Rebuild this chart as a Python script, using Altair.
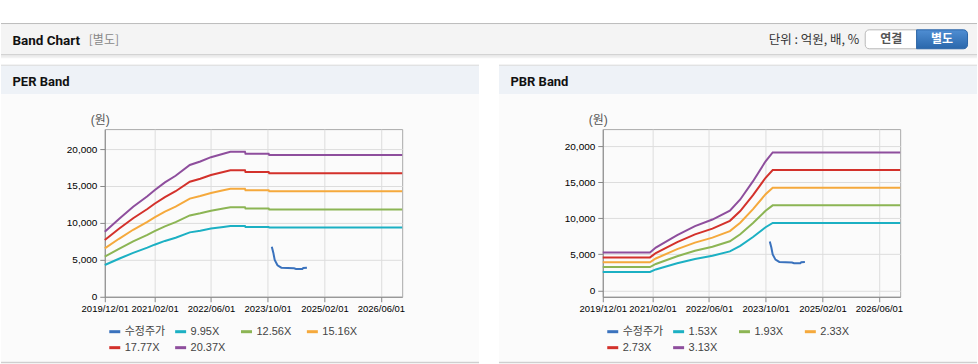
import altair as alt
import pandas as pd

# ---------------- data ----------------
per_labels = ["수정주가", "9.95X", "12.56X", "15.16X", "17.77X", "20.37X"]
pbr_labels = ["수정주가", "1.53X", "1.93X", "2.33X", "2.73X", "3.13X"]
line_colors = ["#3a72bd", "#1cb0c3", "#8cb554", "#f5a93c", "#d3312b", "#8e4e9d"]

per_dates = ["2019-12-01", "2020-04-01", "2020-08-01", "2020-12-01", "2021-02-01",
             "2021-05-01", "2021-08-01", "2021-12-01", "2022-03-01", "2022-06-01",
             "2022-09-15", "2022-11-15", "2023-03-20", "2023-03-25", "2023-10-10",
             "2023-10-15", "2026-12-01"]
per_995 = [4300, 5150, 5950, 6650, 7050, 7560, 8000, 8720, 8950, 9230, 9460, 9590, 9590, 9460, 9460, 9370, 9370]
per_1256 = [5430, 6500, 7510, 8390, 8900, 9540, 10100, 11010, 11300, 11650, 11940, 12110, 12110, 11940, 11940, 11830, 11830]
per_1516 = [6550, 7850, 9070, 10130, 10740, 11520, 12190, 13290, 13640, 14060, 14410, 14610, 14610, 14410, 14410, 14280, 14280]
per_1777 = [7680, 9200, 10630, 11880, 12590, 13500, 14290, 15570, 15980, 16480, 16890, 17130, 17130, 16890, 16890, 16730, 16730]
per_2037 = [8800, 10540, 12180, 13610, 14430, 15480, 16380, 17850, 18320, 18900, 19370, 19630, 19630, 19370, 19370, 19180, 19180]

pbr_dates = ["2019-12-01", "2021-01-10", "2021-03-01", "2021-09-01", "2022-02-01",
             "2022-07-01", "2022-11-28", "2023-02-25", "2023-06-15", "2023-10-01",
             "2023-12-01", "2026-12-01"]
pbr_153 = [2560, 2560, 2900, 3750, 4350, 4800, 5400, 6160, 7400, 8750, 9350, 9350]
pbr_193 = [3230, 3230, 3660, 4730, 5490, 6050, 6810, 7770, 9330, 11040, 11790, 11790]
pbr_233 = [3900, 3900, 4420, 5710, 6620, 7310, 8220, 9380, 11270, 13330, 14240, 14240]
pbr_273 = [4570, 4570, 5170, 6690, 7760, 8560, 9640, 10990, 13200, 15610, 16680, 16680]
pbr_313 = [5240, 5240, 5930, 7670, 8900, 9820, 11050, 12600, 15140, 17900, 19130, 19130]

price_dates = ["2023-11-06", "2023-11-19", "2023-12-01", "2023-12-25", "2024-01-27",
               "2024-05-15", "2024-06-01", "2024-07-25", "2024-08-03", "2024-09-03"]
price_values = [6780, 5970, 4980, 4260, 3940, 3850, 3760, 3760, 3900, 3940]

x_ticks = [(2019, 12), (2021, 2), (2022, 6), (2023, 10), (2025, 2), (2026, 6)]
y_ticks = [0, 5000, 10000, 15000, 20000]
per_ydomain = [0, 22700]
pbr_ydomain = [-890, 22360]


def frame(dates, bands, labels):
    rows = []
    for d, v in zip(price_dates, price_values):
        rows.append({"date": d, "value": v, "series": labels[0]})
    for lab, vals in zip(labels[1:], bands):
        for d, v in zip(dates, vals):
            rows.append({"date": d, "value": v, "series": lab})
    return pd.DataFrame(rows)


per_df = frame(per_dates, [per_995, per_1256, per_1516, per_1777, per_2037], per_labels)
pbr_df = frame(pbr_dates, [pbr_153, pbr_193, pbr_233, pbr_273, pbr_313], pbr_labels)

LATIN = "Liberation Sans, Noto Sans CJK KR"
KR = "Noto Sans CJK KR"
PW, PH = 298, 168


def dt(y, m, d=1):
    return alt.DateTime(year=y, month=m, date=d, utc=True)


def panel(df, labels, ydomain):
    x = alt.X("date:T",
              scale=alt.Scale(type="utc", domain=[dt(2019, 12), dt(2026, 12)]),
              axis=alt.Axis(values=[dt(y, m) for y, m in x_ticks], format="%Y/%m/%d",
                            title=None, labelOverlap=False, labelFlush=False,
                            labelPadding=2, labelFontSize=9.5))
    y = alt.Y("value:Q",
              scale=alt.Scale(domain=ydomain, nice=False, zero=False),
              axis=alt.Axis(values=y_ticks, format=",.0f", title="(원)", titleAngle=0,
                            titleX=-5, titleY=-10, titleAlign="center",
                            titleBaseline="middle", titleFontWeight="normal",
                            titleFontSize=12, titleColor="#555", titleFont=LATIN,
                            labelPadding=3))
    color = alt.Color("series:N",
                      scale=alt.Scale(domain=labels, range=line_colors),
                      legend=alt.Legend(orient="none", legendX=3, legendY=196,
                                        direction="horizontal", columns=4,
                                        gridAlign="all", columnPadding=3, rowPadding=3,
                                        symbolType="stroke", symbolStrokeWidth=3,
                                        symbolSize=121, labelFontSize=11,
                                        labelFont=LATIN, labelColor="#444",
                                        labelOffset=3, padding=0, title=None))
    return (alt.Chart(df).mark_line(strokeWidth=2)
            .encode(x=x, y=y, color=color)
            .properties(width=PW, height=PH,
                        view=alt.ViewBackground(stroke="#aaaaaa", strokeWidth=1)))


# ---------------- page decoration ----------------
OX, OY = 104, 127
dummy = pd.DataFrame({"k": [0]})


def rect(x1, y1, x2, y2, **kw):
    return alt.Chart(dummy).mark_rect(**kw).encode(
        x=alt.value(x1 - OX), x2=alt.value(x2 - OX),
        y=alt.value(y1 - OY), y2=alt.value(y2 - OY))


def text(x, y, s, **kw):
    return alt.Chart(dummy).mark_text(**kw).encode(
        x=alt.value(x - OX), y=alt.value(y - OY), text=alt.value(s))


blue_grad = alt.LinearGradient(gradient="linear", x1=0, x2=0, y1=0, y2=1,
                               stops=[alt.GradientStop(offset=0, color="#4f8ed3"),
                                      alt.GradientStop(offset=1, color="#2a67ab")])

parts = [
    rect(0, 0, 978, 364, fill="#ffffff"),
    rect(0, 22, 978, 23, fill="#a8a8a8"),
    rect(0, 23, 978, 53, fill="#f4f4f4"),
    rect(0, 53, 978, 54, fill="#c6c6c6"),
    rect(0, 54, 978, 55.5, fill="#e4e4e4"),
    rect(0, 55.5, 978, 57, fill="#f2f2f2"),
]
for px1, px2 in [(0, 479), (499, 978)]:
    parts += [
        rect(px1, 63.5, px2, 64.5, fill="#d0d0d0"),
        rect(px1, 64.5, px2, 93, fill="#eef2f7"),
        rect(px1, 93, px2, 361, fill="#fbfbfb"),
        rect(px1, 361, px2, 362.5, fill="#cfcfcf"),
    ]
parts += [
    text(11.5, 43.5, "Band Chart", align="left", baseline="alphabetic", font="Roboto",
         fontSize=13.5, fontWeight="bold", color="#111"),
    text(88, 43, "[별도]", align="left", baseline="alphabetic", font=KR,
         fontSize=12, color="#888"),
    text(860, 43, "단위 : 억원, 배, %", align="right", baseline="alphabetic", font=KR,
         fontSize=12.5, color="#333"),
    rect(866, 28.5, 917.5, 47.5, fill="#ffffff", stroke="#b8b8b8", strokeWidth=1,
         cornerRadiusTopLeft=4, cornerRadiusBottomLeft=4),
    rect(917.5, 28.5, 968.5, 47.5, fill=blue_grad, stroke="#2a64a6", strokeWidth=1,
         cornerRadiusTopRight=4, cornerRadiusBottomRight=4),
    text(892, 38, "연결", align="center", baseline="middle", font=KR, fontSize=12,
         fontWeight="bold", color="#555"),
    text(943, 38, "별도", align="center", baseline="middle", font=KR, fontSize=12,
         fontWeight="bold", color="#ffffff"),
    text(11.5, 85, "PER Band", align="left", baseline="alphabetic", font="Roboto",
         fontSize=13, fontWeight="bold", color="#111"),
    text(510.5, 85, "PBR Band", align="left", baseline="alphabetic", font="Roboto",
         fontSize=13, fontWeight="bold", color="#111"),
]
deco = alt.layer(*parts).properties(width=1, height=1)

row = (alt.hconcat(panel(per_df, per_labels, per_ydomain),
                   panel(pbr_df, pbr_labels, pbr_ydomain),
                   spacing=201, bounds="flush")
       .resolve_scale(color="independent", x="independent", y="independent")
       .resolve_legend(color="independent"))

chart = (alt.vconcat(deco, row, spacing=0, bounds="flush", padding=0)
         .resolve_scale(color="independent")
         .resolve_legend(color="independent")
         .configure_view(stroke="transparent")
         .configure_axis(labelFont=LATIN, labelFontSize=10, labelColor="#666",
                         tickColor="#999", tickSize=4, gridColor="#e8e8e8",
                         domain=False)
         .configure(background="#ffffff"))

chart.save("out.html", embed_options={"renderer": "svg", "actions": False})
